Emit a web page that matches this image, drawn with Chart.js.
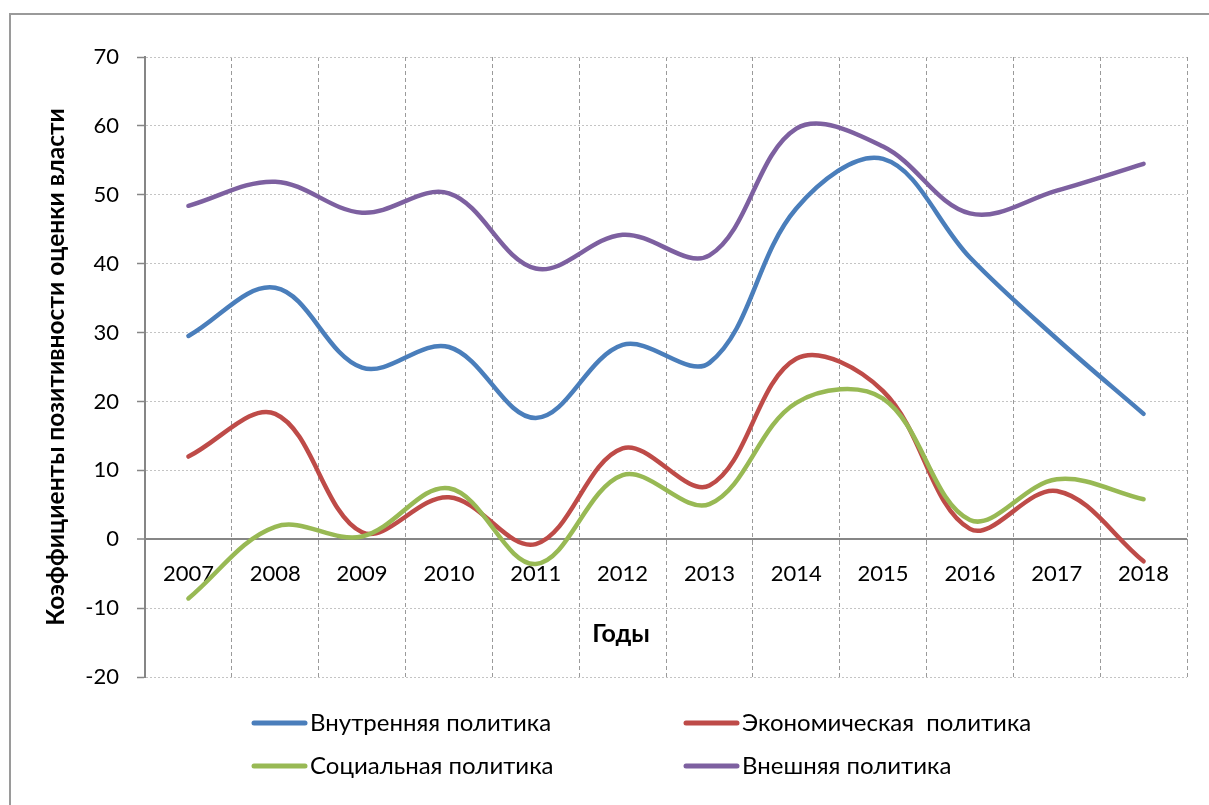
<!DOCTYPE html>
<html>
<head>
<meta charset="utf-8">
<script src="https://cdn.jsdelivr.net/npm/chart.js@4.4.0/dist/chart.umd.min.js"></script>
<style>
html, body { margin: 0; padding: 0; background: #fff; }
#wrap { width: 1209px; height: 805px; }
</style>
</head>
<body>
<div id="wrap"><canvas id="chart"></canvas></div>
<script>
// годы и коэффициенты по направлениям политики
var years = ['2007', '2008', '2009', '2010', '2011', '2012', '2013', '2014', '2015', '2016', '2017', '2018'];
var vnutrennyaya = [29.5, 36.5, 24.9, 27.9, 17.6, 28.2, 25.6, 48.0, 55.2, 40.9, 29.1, 18.2];
var ekonomicheskaya = [12.0, 18.2, 1.0, 6.1, -0.7, 13.2, 7.8, 26.2, 21.5, 1.5, 7.0, -3.2];
var socialnaya = [-8.6, 1.8, 0.4, 7.4, -3.6, 9.3, 5.1, 19.8, 20.4, 2.8, 8.7, 5.8];
var vneshnyaya = [48.4, 51.9, 47.4, 50.2, 39.3, 44.2, 41.2, 59.6, 57.0, 47.3, 50.6, 54.5];
var yMin = -20, yMax = 70, yStep = 10;

var FONT = 'Lato';

// рамка области диаграммы (видны левая и верхняя стороны)
var frame = {
    id: 'frame',
    beforeDraw: function(chart) {
        var ctx = chart.ctx;
        ctx.save();
        ctx.fillStyle = '#fff';
        ctx.fillRect(0, 0, chart.width, chart.height);
        ctx.strokeStyle = '#9a9a9a';
        ctx.lineWidth = 2;
        ctx.beginPath();
        ctx.moveTo(10, chart.height);
        ctx.lineTo(10, 14);
        ctx.lineTo(chart.width, 14);
        ctx.stroke();
        ctx.restore();
    }
};

// Excel центрирует подпись "Годы" по всей диаграмме, а не по области построения
var titleShift = {
    id: 'titleShift',
    afterLayout: function(chart) {
        chart.scales.x.left -= 90;
    }
};

// легенда в две колонки, как в Excel
var gridLegend = {
    id: 'gridLegend',
    afterDraw: function(chart) {
        var ctx = chart.ctx;
        var cols = [252, 684], rows = [723, 766];
        chart.data.datasets.forEach(function(ds, i) {
            var x = cols[i % 2], y = rows[Math.floor(i / 2)];
            ctx.save();
            ctx.strokeStyle = ds.borderColor;
            ctx.lineWidth = 5;
            ctx.lineCap = 'round';
            ctx.beginPath();
            ctx.moveTo(x + 2, y);
            ctx.lineTo(x + 53, y);
            ctx.stroke();
            ctx.fillStyle = '#000';
            ctx.font = '24px ' + FONT;
            ctx.textBaseline = 'middle';
            ctx.fillText(ds.label, x + 58, y);
            ctx.restore();
        });
    }
};

function line(label, data, color, order) {
    return {
        label: label,
        data: data,
        borderColor: color,
        backgroundColor: color,
        borderWidth: 4.5,
        borderCapStyle: 'round',
        borderJoinStyle: 'round',
        pointRadius: 0,
        tension: 0.36,
        fill: false,
        order: order
    };
}

function isZero(c) {
    return c.tick && c.tick.value === 0;
}

var ctx = document.getElementById('chart').getContext('2d');
var chart = new Chart(ctx, {
    type: 'line',
    data: {
        labels: years,
        datasets: [
            line('Внутренняя политика', vnutrennyaya, '#4A7EBB', 4),
            line('Экономическая  политика', ekonomicheskaya, '#BE4B48', 3),
            line('Социальная политика', socialnaya, '#98B954', 2),
            line('Внешняя политика', vneshnyaya, '#7D60A0', 1)
        ]
    },
    options: {
        responsive: true,
        maintainAspectRatio: false,
        animation: false,
        layout: {
            padding: { left: 20, right: 22, top: 57, bottom: 128 }
        },
        plugins: {
            legend: { display: false },
            tooltip: { enabled: false }
        },
        scales: {
            x: {
                type: 'category',
                position: { y: 0 },
                offset: true,
                grid: {
                    offset: true,
                    color: '#9a9a9a',
                    lineWidth: 1,
                    tickLength: 6,
                    tickColor: '#9a9a9a'
                },
                border: { display: false, dash: [4, 3] },
                ticks: {
                    color: '#000',
                    padding: 15,
                    maxRotation: 0,
                    autoSkip: false,
                    font: { family: FONT, size: 22 }
                },
                title: {
                    display: true,
                    text: 'Годы',
                    color: '#000',
                    font: { family: FONT, size: 25, weight: 'bold' },
                    padding: { top: 17, bottom: 0 }
                }
            },
            y: {
                min: yMin,
                max: yMax,
                ticks: {
                    stepSize: yStep,
                    color: '#000',
                    padding: 18,
                    font: { family: FONT, size: 22 }
                },
                grid: {
                    color: function(c) { return isZero(c) ? '#868686' : '#c4c4c4'; },
                    lineWidth: function(c) { return isZero(c) ? 2 : 1; },
                    tickLength: 8,
                    tickColor: '#868686',
                    tickWidth: 1.5
                },
                border: {
                    color: '#868686',
                    width: 2,
                    dash: function(c) { return isZero(c) ? [] : [2, 2]; }
                },
                title: {
                    display: true,
                    text: 'Коэффициенты позитивности оценки власти',
                    color: '#000',
                    font: { family: FONT, size: 24.5, weight: 'bold' },
                    padding: { top: 21, bottom: 0 }
                },
                afterFit: function(scale) {
                    scale.width = 125;
                }
            }
        }
    },
    plugins: [frame, titleShift, gridLegend]
});
</script>
</body>
</html>
